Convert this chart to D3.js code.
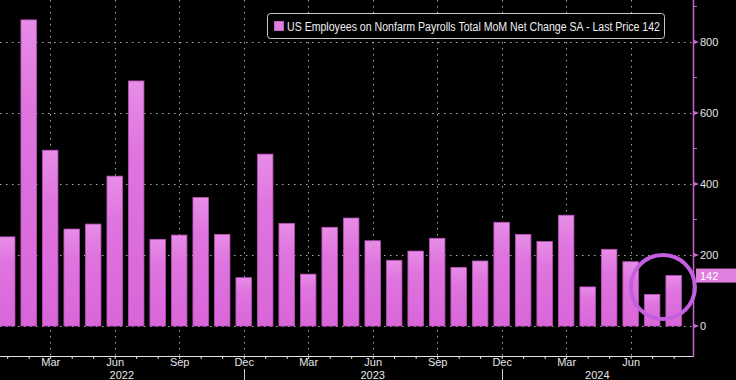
<!DOCTYPE html>
<html><head><meta charset="utf-8">
<script src="https://cdn.jsdelivr.net/npm/d3@7"></script>
<style>html,body{margin:0;padding:0;background:#000;}svg{display:block;}</style>
</head><body>
<svg id="chart" width="736" height="380"></svg>
<script>
// ---- data ----
const months = ["2022-01","2022-02","2022-03","2022-04","2022-05","2022-06","2022-07","2022-08","2022-09","2022-10","2022-11","2022-12",
"2023-01","2023-02","2023-03","2023-04","2023-05","2023-06","2023-07","2023-08","2023-09","2023-10","2023-11","2023-12",
"2024-01","2024-02","2024-03","2024-04","2024-05","2024-06","2024-07","2024-08"];
const payrollChange = [251,862,495,273,287,422,690,244,256,362,258,136,
484,289,146,278,304,240,185,211,247,165,183,292,
258,238,312,110,216,181,89,142];
const monthTickLabels = {"03":"Mar","06":"Jun","09":"Sep","12":"Dec"};
const yearLabels = ["2022","2023","2024"];
const yTicksMajor = [0,200,400,600,800];
const yTicksMinor = [100,300,500,700,900];
const legendText = "US Employees on Nonfarm Payrolls Total MoM Net Change SA - Last Price 142";
const lastPrice = 142;

// ---- layout ----
const svg = d3.select("#chart");
const W = 736, H = 380;
const plotRight = 693, axisY = 356;
svg.append("rect").attr("width",W).attr("height",H).attr("fill","#000");

const x = d3.scaleLinear().domain([-0.335, 31.9]).range([0, plotRight]);
const y = d3.scaleLinear().domain([-84.5, 918]).range([axisY, 0]);
const barW = 15.5;

const defs = svg.append("defs");
const grad = defs.append("linearGradient").attr("id","barGrad").attr("x1",0).attr("y1",0).attr("x2",0).attr("y2",1);
grad.append("stop").attr("offset","0%").attr("stop-color","#e78de7");
grad.append("stop").attr("offset","30%").attr("stop-color","#df74df");
grad.append("stop").attr("offset","100%").attr("stop-color","#d966d9");

// gridlines
const grid = svg.append("g");
grid.selectAll("line.h").data(yTicksMajor).join("line")
  .attr("x1",0).attr("x2",plotRight).attr("y1",d=>Math.round(y(d))+0.5).attr("y2",d=>Math.round(y(d))+0.5)
  .attr("stroke","#a8a8a8").attr("stroke-width",1).attr("stroke-dasharray","1.5,4.5");
const labeledIdx = months.map((m,i)=>[m,i]).filter(([m])=>monthTickLabels[m.slice(5)]);
grid.selectAll("line.v").data(labeledIdx).join("line")
  .attr("x1",d=>Math.round(x(d[1]))+0.5).attr("x2",d=>Math.round(x(d[1]))+0.5)
  .attr("y1",0).attr("y2",axisY)
  .attr("stroke","#a8a8a8").attr("stroke-width",1).attr("stroke-dasharray","1.5,4.5");

// bars
svg.append("g").selectAll("rect").data(payrollChange).join("rect")
  .attr("x",(d,i)=>x(i)-barW/2)
  .attr("width",barW)
  .attr("y",d=>y(d))
  .attr("height",d=>y(0)-y(d))
  .attr("fill","url(#barGrad)")
  .attr("stroke","#b850b8").attr("stroke-width",0.8);

// x axis
const xg = svg.append("g").attr("transform",`translate(0,${axisY})`);
const xAxis = d3.axisBottom(x).tickValues(d3.range(months.length)).tickSize(3)
  .tickFormat(i=>monthTickLabels[months[i].slice(5)]||"");
xg.call(xAxis);
xg.select(".domain").attr("d",`M0,0.5H${plotRight}`).attr("stroke","#e6e6e6");
xg.selectAll(".tick line").attr("stroke","#e6e6e6");
xg.selectAll(".tick text").attr("fill","#e6e6e6").attr("font-family","Liberation Sans, Arial, sans-serif")
  .attr("font-size",11).attr("dy","0.55em").attr("y",4);

// year separators at Dec ticks & year labels
const sepIdx = months.map((m,i)=>[m,i]).filter(([m])=>m.slice(5)==="12").map(d=>d[1]);
svg.append("g").selectAll("line").data(sepIdx).join("line")
  .attr("x1",i=>Math.round(x(i))+0.5).attr("x2",i=>Math.round(x(i))+0.5)
  .attr("y1",369).attr("y2",H).attr("stroke","#d0d0d0");
const bounds = [0, ...sepIdx.map(i=>x(i)), plotRight];
svg.append("g").selectAll("text").data(yearLabels).join("text")
  .attr("x",(d,k)=>(bounds[k]+bounds[k+1])/2).attr("y",379)
  .attr("text-anchor","middle").attr("fill","#e6e6e6")
  .attr("font-family","Liberation Sans, Arial, sans-serif").attr("font-size",11).text(d=>d);

// y axis (right)
const yColor = "#c865c8";
svg.append("line").attr("x1",plotRight+0.5).attr("x2",plotRight+0.5).attr("y1",0).attr("y2",axisY+1)
  .attr("stroke",yColor).attr("stroke-width",1.5);
svg.append("g").selectAll("line").data(yTicksMinor).join("line")
  .attr("x1",plotRight).attr("x2",plotRight+4).attr("y1",d=>Math.round(y(d))+0.5).attr("y2",d=>Math.round(y(d))+0.5)
  .attr("stroke",yColor);
const yt = svg.append("g").selectAll("g").data(yTicksMajor).join("g")
  .attr("transform",d=>`translate(${plotRight},${y(d)})`);
yt.append("path").attr("d","M0,-2.5L6,0L0,2.5Z").attr("fill",yColor);
yt.append("text").attr("x",7).attr("dy","0.36em").attr("fill","#e6e6e6")
  .attr("font-family","Liberation Sans, Arial, sans-serif").attr("font-size",11).text(d=>d);

// last price label
const lp = svg.append("g").attr("transform",`translate(696,${y(lastPrice)})`);
lp.append("rect").attr("x",0).attr("y",-7).attr("width",W-696).attr("height",14).attr("fill","#e07fe0");
lp.append("text").attr("x",4).attr("dy","0.36em").attr("fill","#fff")
  .attr("font-family","Liberation Sans, Arial, sans-serif").attr("font-size",11).text(lastPrice);

// highlight circle around last two months
svg.append("circle").attr("cx",x(30.5)).attr("cy",y(110)).attr("r",32)
  .attr("fill","none").attr("stroke","#c45ee0").attr("stroke-width",4);

// legend
const lg = svg.append("g");
lg.append("rect").attr("x",267.5).attr("y",13.5).attr("width",397).attr("height",25).attr("rx",3)
  .attr("fill","#000").attr("stroke","#c8c8c8");
lg.append("rect").attr("x",274.5).attr("y",21.5).attr("width",9).attr("height",9)
  .attr("fill","#e07fe0").attr("stroke","#c060c0");
lg.append("text").attr("x",287).attr("y",30.5).attr("fill","#f0f0f0")
  .attr("font-family","Liberation Sans, Arial, sans-serif").attr("font-size",12.5)
  .attr("textLength",373).attr("lengthAdjust","spacingAndGlyphs").text(legendText);
</script>
</body></html>
